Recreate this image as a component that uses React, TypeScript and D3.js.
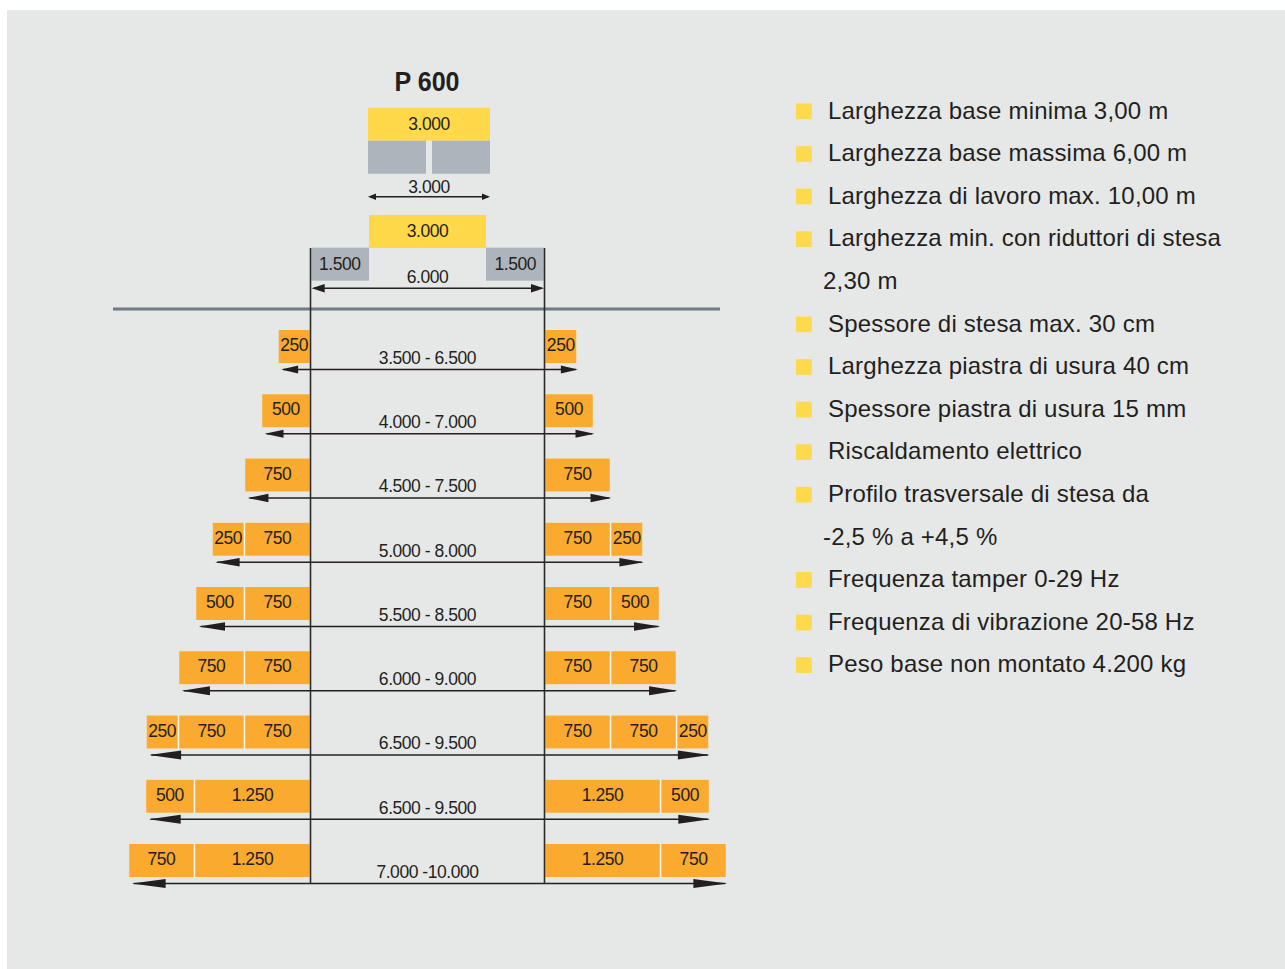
import React from 'react';
import * as d3 from 'd3';

const title = 'P 600';
const minBaseValue = 3000;
const minBaseLabel = '3.000';
const maxBaseLabel = '6.000';
const sideBaseLabel = '1.500';
const sideBaseValue = 1500;
const moduleDomain = [0, 250, 500, 750, 1250];
const rowModules: number[][] = [
  [250],
  [500],
  [750],
  [750, 250],
  [750, 500],
  [750, 750],
  [750, 750, 250],
  [1250, 500],
  [1250, 750],
];
const rowLabels = [
  '3.500 - 6.500',
  '4.000 - 7.000',
  '4.500 - 7.500',
  '5.000 - 8.000',
  '5.500 - 8.500',
  '6.000 - 9.000',
  '6.500 - 9.500',
  '6.500 - 9.500',
  '7.000 -10.000',
];
const moduleLabel = (v: number) => (v >= 1000 ? d3.format(',')(v).replace(',', '.') : String(v));
const specItems: string[][] = [
  ['Larghezza base minima 3,00 m'],
  ['Larghezza base massima 6,00 m'],
  ['Larghezza di lavoro max. 10,00 m'],
  ['Larghezza min. con riduttori di stesa', '2,30 m'],
  ['Spessore di stesa max. 30 cm'],
  ['Larghezza piastra di usura 40 cm'],
  ['Spessore piastra di usura 15 mm'],
  ['Riscaldamento elettrico'],
  ['Profilo trasversale di stesa da', '-2,5 % a +4,5 %'],
  ['Frequenza tamper 0-29 Hz'],
  ['Frequenza di vibrazione 20-58 Hz'],
  ['Peso base non montato 4.200 kg'],
];

const FONT = '"Liberation Sans", Arial, Helvetica, sans-serif';
const INK = '#231f20';
const ORANGE = '#f9aa2f';
const YELLOW = '#ffd94a';
const GREY = '#adb4bb';
const BG = '#e6e7e7';

function Arrow({ x1, x2, y, head, half }: { x1: number; x2: number; y: number; head: number; half: number }) {
  const line = d3.line();
  const left = line([[x1, y], [x1 + head, y - half], [x1 + head, y + half]]) + 'Z';
  const right = line([[x2, y], [x2 - head, y - half], [x2 - head, y + half]]) + 'Z';
  return (
    <g>
      <line x1={x1 + 2} x2={x2 - 2} y1={y} y2={y} stroke={INK} strokeWidth={1.6} />
      <path d={left} fill={INK} />
      <path d={right} fill={INK} />
    </g>
  );
}

function Label({ x, y, text }: { x: number; y: number; text: string }) {
  return (
    <text x={x} y={y} textAnchor="middle" fontFamily={FONT} fontSize={17.5} letterSpacing={-0.45} fill={INK}>
      {text}
    </text>
  );
}

export default function App() {
  const W = 1285;
  const H = 969;
  const leftX = 310.5;
  const rightX = 544.5;
  const midX = (leftX + rightX) / 2;

  const modW = d3.scaleLinear().domain(moduleDomain).range([0, 31, 47.5, 64.5, 114.5]);
  const rowY = d3.scaleLinear().domain([0, rowModules.length - 1]).range([330, 844]);
  const xMax = d3.scaleLinear().domain([-minBaseValue, minBaseValue]).range([leftX, rightX]);
  const xMin = d3.scaleLinear().domain([-minBaseValue / 2, minBaseValue / 2]).range([368, 490]);

  const boxH = 33;
  const gap = 1.5;

  const rows = rowModules.map((mods, i) => {
    const top = rowY(i);
    const right: { x: number; w: number; v: number }[] = [];
    const left: { x: number; w: number; v: number }[] = [];
    let cr = rightX + 0.8;
    let cl = leftX - 0.8;
    mods.forEach((v) => {
      const w = modW(v);
      right.push({ x: cr, w, v });
      cr += w + gap;
      left.push({ x: cl - w, w, v });
      cl -= w + gap;
    });
    const rEdge = cr - gap;
    const lEdge = cl + gap;
    return { top, right, left, rEdge, lEdge, label: rowLabels[i] };
  });

  const specLines: { text: string; bullet: boolean }[] = [];
  specItems.forEach((item) => item.forEach((t, j) => specLines.push({ text: t, bullet: j === 0 })));
  const specY = d3.scaleLinear().domain([0, specLines.length - 1]).range([118.5, 118.5 + 42.6 * (specLines.length - 1)]);

  return (
    <svg width={W} height={H} style={{ position: 'absolute', left: 0, top: 0, display: 'block' }}>
      <rect x={0} y={0} width={W} height={H} fill="#ffffff" />
      <rect x={7} y={10} width={W - 7} height={H - 10} fill={BG} />

      {/* title */}
      <text
        transform={`translate(427,90.5) scale(0.88,1)`}
        textAnchor="middle"
        fontFamily={FONT}
        fontWeight="bold"
        fontSize={28.5}
        fill={INK}
      >
        {title}
      </text>

      {/* minimum base */}
      <rect x={xMin(-minBaseValue / 2)} y={107.7} width={xMin(minBaseValue / 2) - xMin(-minBaseValue / 2)} height={boxH} fill={YELLOW} />
      <Label x={(xMin(-minBaseValue / 2) + xMin(minBaseValue / 2)) / 2} y={130} text={minBaseLabel} />
      <rect x={xMin(-minBaseValue / 2)} y={140.7} width={xMin(0) - 3 - xMin(-minBaseValue / 2)} height={boxH} fill={GREY} />
      <rect x={xMin(0) + 3} y={140.7} width={xMin(minBaseValue / 2) - xMin(0) - 3} height={boxH} fill={GREY} />
      <Label x={(xMin(-minBaseValue / 2) + xMin(minBaseValue / 2)) / 2} y={192.7} text={minBaseLabel} />
      <Arrow x1={xMin(-minBaseValue / 2)} x2={xMin(minBaseValue / 2)} y={196.7} head={8} half={3.3} />

      {/* maximum base */}
      <rect x={xMax(-minBaseValue / 2)} y={215} width={xMax(minBaseValue / 2) - xMax(-minBaseValue / 2)} height={boxH} fill={YELLOW} />
      <Label x={midX} y={236.7} text={minBaseLabel} />
      <rect x={xMax(-minBaseValue) + 0.8} y={247.7} width={xMax(-minBaseValue + sideBaseValue) - xMax(-minBaseValue) - 0.8} height={boxH} fill={GREY} />
      <rect x={xMax(minBaseValue - sideBaseValue)} y={247.7} width={xMax(minBaseValue) - xMax(minBaseValue - sideBaseValue) - 0.8} height={boxH} fill={GREY} />
      <Label x={(xMax(-minBaseValue) + xMax(-minBaseValue + sideBaseValue)) / 2} y={270} text={sideBaseLabel} />
      <Label x={(xMax(minBaseValue) + xMax(minBaseValue - sideBaseValue)) / 2} y={270} text={sideBaseLabel} />
      <Label x={midX} y={283.3} text={maxBaseLabel} />
      <Arrow x1={leftX + 1.2} x2={rightX - 0.5} y={288.3} head={13} half={4.3} />

      {/* separator */}
      <line x1={113} x2={720} y1={309} y2={309} stroke="#6f7b82" strokeWidth={3} />

      {/* rows */}
      {rows.map((r, i) => {
        const tipL = r.lEdge + 2.5;
        const tipR = r.rEdge + 1.5;
        const L = tipR - tipL;
        return (
          <g key={i}>
            <rect x={r.lEdge} y={r.top} width={leftX - r.lEdge} height={boxH} fill="#f7f7f5" />
            <rect x={rightX} y={r.top} width={r.rEdge - rightX} height={boxH} fill="#f7f7f5" />
            {r.left.concat(r.right).map((m, j) => (
              <g key={j}>
                <rect x={m.x} y={r.top} width={m.w} height={boxH} fill={ORANGE} />
                <Label x={m.x + m.w / 2} y={r.top + 21} text={moduleLabel(m.v)} />
              </g>
            ))}
            <Label x={midX} y={r.top + 33.8} text={r.label} />
            <Arrow x1={tipL} x2={tipR} y={r.top + 39.5} head={L * 0.057} half={3.5 + L * 0.0018} />
          </g>
        );
      })}

      {/* vertical guides */}
      <line x1={leftX} x2={leftX} y1={248} y2={rowY(rowModules.length - 1) + 40} stroke="#2b2b2b" strokeWidth={1.6} />
      <line x1={rightX} x2={rightX} y1={248} y2={rowY(rowModules.length - 1) + 40} stroke="#2b2b2b" strokeWidth={1.6} />

      {/* spec list */}
      {specLines.map((s, i) => (
        <g key={i}>
          {s.bullet && <rect x={796} y={specY(i) - 15} width={15.7} height={15.7} fill="#fdd94d" />}
          <text x={s.bullet ? 828 : 823} y={specY(i)} fontFamily={FONT} fontSize={24} letterSpacing={0.2} fill={INK}>
            {s.text}
          </text>
        </g>
      ))}
    </svg>
  );
}
